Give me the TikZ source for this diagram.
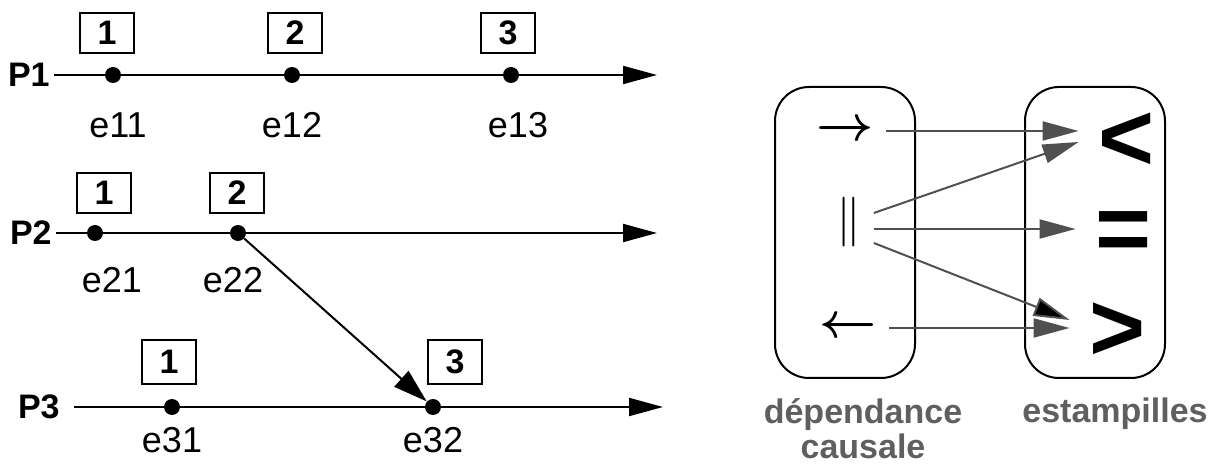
\documentclass[tikz,border=0pt]{standalone}
\usepackage{fontspec}
\setmainfont{Liberation Sans}
\usetikzlibrary{arrows.meta}
\definecolor{cRel}{HTML}{505050}
\definecolor{cCap}{HTML}{5F5F5F}
\tikzset{
  evt/.style={circle, fill=black, inner sep=0pt, minimum size=8pt},
  clk/.style={draw, line width=1pt, minimum width=27pt, minimum height=20pt,
              inner sep=0pt, font=\fontsize{17}{17}\selectfont\bfseries},
  plbl/.style={font=\fontsize{17}{17}\selectfont\bfseries, inner sep=2pt},
  elbl/.style={font=\fontsize{18}{18}\selectfont},
  tline/.style={line width=1pt, -{Triangle[length=17pt,width=9pt]}},
  msg/.style={line width=1pt, -{Triangle[length=17pt,width=10.5pt]}},
  grp/.style={draw, line width=1pt, rounded corners=17pt,
              minimum width=70pt, minimum height=145.5pt},
  relsym/.style={inner sep=6pt, font=\fontsize{27}{27}\selectfont\boldmath},
  stamp/.style={inner sep=10pt, font=\fontsize{48}{48}\selectfont\bfseries},
  rel/.style={line width=1pt, cRel, -{Triangle[length=18pt,width=9.5pt]}},
  captxt/.style={font=\fontsize{17}{17.5}\selectfont\bfseries, text=cCap, align=center}
}

\begin{document}
\begin{tikzpicture}[x=0.5pt, y=-0.5pt]
\useasboundingbox (0,0) rectangle (1223,470);
% Process P1
\node[plbl, anchor=east] (P1) at (54,75) {P1};
\coordinate (p1end) at (657,75);
\draw[tline] (P1.east) -- (p1end);
\node[evt] (e11) at (113,75) {};
\node[evt] (e12) at (292,75) {};
\node[evt] (e13) at (511,75) {};
\node[clk] (c11) at (107,33) {1};
\node[clk] (c12) at (295,33) {2};
\node[clk] (c13) at (508,33) {3};
\node[elbl] (l11) at (118,125) {e11};
\node[elbl] (l12) at (292,125) {e12};
\node[elbl] (l13) at (518,125) {e13};
% Process P2
\node[plbl, anchor=east] (P2) at (56,233) {P2};
\coordinate (p2end) at (657,233);
\draw[tline] (P2.east) -- (p2end);
\node[evt] (e21) at (95,233) {};
\node[evt] (e22) at (238,233) {};
\node[clk] (c21) at (104,193) {1};
\node[clk] (c22) at (237,193) {2};
\node[elbl] (l21) at (112,280) {e21};
\node[elbl] (l22) at (233,280) {e22};
% Process P3
\node[plbl, anchor=east] (P3) at (64,407) {P3};
\coordinate (p3end) at (663,407);
\draw[tline] ([xshift=5pt]P3.east) -- (p3end);
\node[evt] (e31) at (172,407) {};
\node[evt] (e32) at (433,407) {};
\node[clk, minimum height=22pt] (c31) at (169,362) {1};
\node[clk, minimum height=22pt] (c33) at (455,362) {3};
\node[elbl] (l31) at (172,440) {e31};
\node[elbl] (l32) at (433,440) {e32};
% message e22 -> e32
\draw[msg] (e22) -- (e32);
% Causal relations vs. timestamp order
\node[grp] (dep) at (845,232.5) {};
\node[grp] (est) at (1095,232.5) {};
\node[relsym] (hb) at (845,131) {$\rightarrow$};
\node[relsym, font=\fontsize{24}{24}\selectfont] (conc) at (849,222) {$\parallel$};
\node[relsym] (hbinv) at (848,328) {$\leftarrow$};
\node[stamp] (lt) at (1127,142) {<};
\node[stamp] (eq) at (1124,237) {=};
\node[stamp] (gt) at (1118,332) {>};
\draw[rel] (hb.east) -- (hb.east -| lt.west);
\draw[rel] ([yshift=4.5pt]conc.east) -- (lt.west);
\draw[rel] ([yshift=-3.5pt]conc.east) -- ([yshift=-3.5pt]conc.east -| eq.west);
\draw[rel, -{Triangle[length=18pt,width=9.5pt,fill=black]}] ([yshift=-10.5pt]conc.east) -- ([yshift=6pt]gt.west);
\draw[rel] (hbinv.east) -- (hbinv.east -| gt.west);
\node[captxt] (depl) at (863,429) {dépendance\\causale};
\node[captxt] (estl) at (1115,414) {estampilles};
\end{tikzpicture}
\end{document}
